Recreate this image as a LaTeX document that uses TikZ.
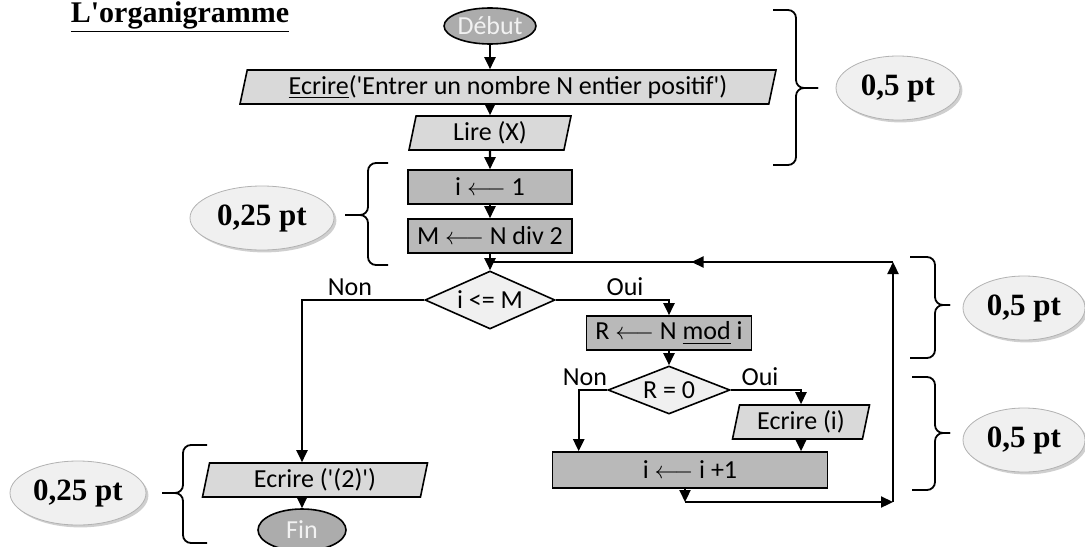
\documentclass[tikz,border=0pt]{standalone}
\usepackage{fontspec}
\setmainfont{Carlito}
\newfontfamily\serifpt{Liberation Serif}
\usetikzlibrary{shapes.geometric, arrows.meta, shadows, decorations.markings}

\tikzset{
  flow/.style={draw, line width=1.1pt, -{Triangle[length=6pt,width=5.5pt]}},
  line/.style={draw, line width=1.1pt},
  bracket/.style={draw, line width=0.9pt, rounded corners=4pt},
  startend/.style={ellipse, draw, line width=0.8pt, fill=gray!65, text=gray!10,
    minimum width=44pt, minimum height=18pt, inner sep=0pt},
  iobox/.style={trapezium, trapezium left angle=74, trapezium right angle=106,
    trapezium stretches body, draw, line width=0.8pt, fill=gray!30,
    minimum height=17pt, inner sep=0.5pt},
  procbox/.style={rectangle, draw, line width=0.8pt, fill=gray!55,
    minimum height=17pt, inner sep=0pt},
  testbox/.style={diamond, aspect=2.4, draw, line width=0.8pt, fill=gray!12, inner sep=0pt},
  ptnote/.style={ellipse, draw=gray!60, fill=gray!12,
    drop shadow={shadow xshift=1.2pt, shadow yshift=-1.2pt, fill=gray!75},
    font=\serifpt\bfseries\fontsize{15.5}{17}\selectfont, inner sep=0pt},
  midarrow/.style={line, decoration={markings,
    mark=at position 0.5 with {\arrow{Triangle[length=6pt,width=5.5pt]}}},
    postaction=decorate},
}

\begin{document}
\begin{tikzpicture}[x=0.5pt, y=-0.5pt, font=\fontsize{13}{15}\selectfont]
    \useasboundingbox (0,0) rectangle (1085,546);

    \node[font=\serifpt\bfseries\fontsize{15}{17}\selectfont] (titre) at (180,17) {\underline{L'organigramme}};

    % colonne principale
    \node[startend] (debut) at (490,26) {Début};
    \node[iobox, minimum width=268pt] (ecr1) at (508,87) {\underline{Ecrire}(\textquotesingle Entrer un nombre N entier positif\textquotesingle)};
    \node[iobox, minimum width=81pt] (lire) at (490,133) {Lire (X)};
    \node[procbox, minimum width=82pt] (init) at (490,187) {i $\longleftarrow$ 1};
    \node[procbox, minimum width=82pt] (calc) at (490,236) {M $\longleftarrow$ N div 2};
    \node[testbox, minimum width=65pt, minimum height=29pt] (test) at (490,300) {i <= M};

    % boucle
    \node[procbox, minimum width=82.5pt] (rmod) at (669,333) {R $\longleftarrow$ N \underline{mod} i};
    \node[testbox, minimum width=61pt, minimum height=24pt] (rtest) at (669,390) {R = 0};
    \node[iobox, minimum width=68.5pt] (ecri) at (801,422) {Ecrire (i)};
    \node[procbox, minimum width=137.5pt, minimum height=18pt] (incr) at (690,470) {i $\longleftarrow$ i +1};

    % sortie
    \node[iobox, minimum width=112.5pt] (ecr2) at (315,480) {Ecrire (\textquotesingle(2)\textquotesingle)};
    \node[startend, minimum height=21pt] (fin) at (302,530) {Fin};

    \node (non1) at (350,287) {Non};
    \node (oui1) at (625,287) {Oui};
    \node (non2) at (585,377) {Non};
    \node (oui2) at (760,377) {Oui};

    \coordinate (b1) at (685,502);
    \coordinate (b2) at (893,502);
    \coordinate (b3) at (893,262);

    \draw[flow] (debut) -- (debut |- ecr1.north);
    \draw[flow] (debut |- ecr1.south) -- (lire.north);
    \draw[flow] (lire) -- (init);
    \draw[flow] (init) -- (calc);
    \draw[flow] (calc) -- (test);
    \draw[flow] (test.west) -| (ecr2.north -| fin);
    \draw[flow] (fin |- ecr2.south) -- (fin);
    \draw[flow] (test.east) -| (rmod.north);
    \draw[flow] (rmod) -- (rtest);
    \draw[flow] (rtest.west) -| ([xshift=13.5pt]incr.north west);
    \draw[flow] (rtest.east) -| (ecri.north);
    \draw[flow] (ecri.south) -- (ecri.south |- incr.north);
    \draw[flow] (incr.south -| b1) -- (b1);
    \draw[flow] (b1) -- (b2);
    \draw[flow] (b2) -- (b3);
    \draw[midarrow] (b3) -- (b3 -| test);

    % accolades
    \foreach \xa/\xb/\xc/\ya/\ym/\yb in {773/796/818/10/88/165, 910/935/950/257/305/358,
      912/935/950/377/433/490, 388/368/345/163/215/265, 207/183/162/445/493/543}
    {
      \draw[bracket] (\xa,\ya) -- (\xb,\ya) -- (\xb,\ym) -- (\xc,\ym);
      \draw[bracket] (\xa,\yb) -- (\xb,\yb) -- (\xb,\ym) -- (\xc,\ym);
    }

    % bareme
    \foreach \nom/\x/\y/\w/\pts in {pa/898/88/62/{0,5 pt}, pb/1024/308/61/{0,5 pt},
      pc/1024/440/61/{0,5 pt}, pd/262/218/72/{0,25 pt}, pe/78/493/68/{0,25 pt}}
      \node[ptnote, minimum width=\w pt, minimum height=32pt] (\nom) at (\x,\y) {\pts};

  \end{tikzpicture}
\end{document}
